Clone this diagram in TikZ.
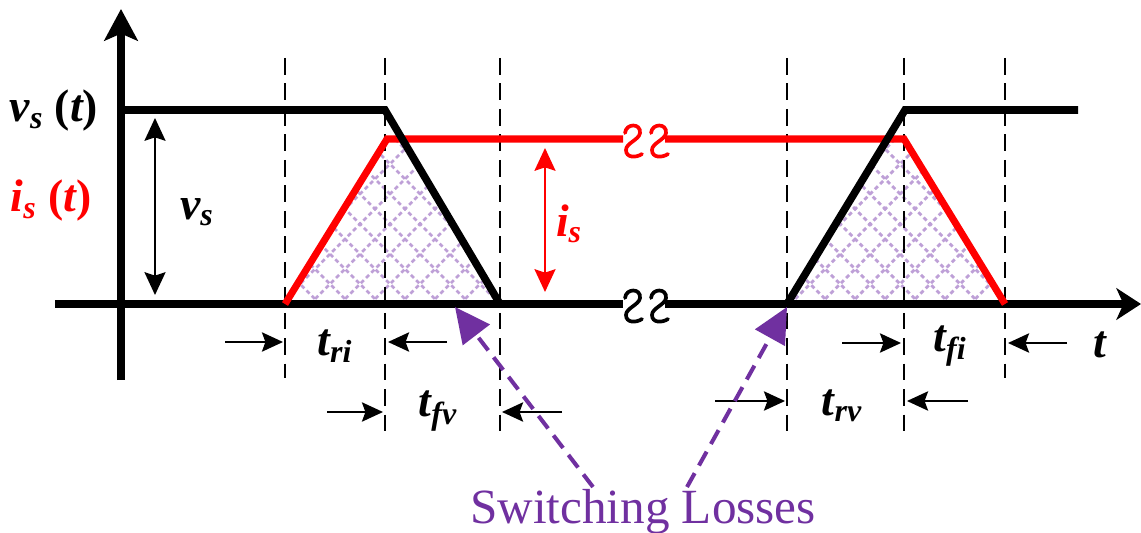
\documentclass[tikz,border=0pt]{standalone}
\usepackage{fontspec}
\setmainfont{Liberation Serif}
\usepackage{tikz}
\usetikzlibrary{arrows.meta}

\definecolor{morado}{RGB}{112,48,160}
\definecolor{lila}{RGB}{190,160,215}
\definecolor{rojo}{RGB}{255,0,0}

\tikzset{
  onda/.style={line width=4.3pt, line join=miter},
  guia/.style={line width=1.2pt, dash pattern=on 9.5pt off 5pt},
  cota/.style={line width=1.1pt, -{Stealth[length=12pt, width=11pt, inset=2pt]}},
  doble/.style={line width=1.1pt, {Stealth[length=13pt, width=12pt, inset=2pt]}-{Stealth[length=13pt, width=12pt, inset=2pt]}},
  etiq/.style={font=\fontsize{26pt}{30pt}\selectfont\bfseries\itshape, inner sep=0pt},
  perdida/.style={morado, line width=2.3pt, dash pattern=on 9pt off 5pt, -{Triangle[length=20pt, width=19pt]}},
  rayado/.style={lila, line width=1.6pt, dash pattern=on 2.4pt off 1.8pt},
  corte/.pic={\draw[line width=2.1pt, line cap=round]
    (-8,-6) .. controls (-7,-16) and (8,-16) .. (7,-6)
    .. controls (6,1) and (-7,4) .. (-7,11)
    .. controls (-7,19) and (3,19) .. (9,15);},
}

\begin{document}
\begin{tikzpicture}[x=0.02cm, y=-0.02cm, >={Stealth}]
    \useasboundingbox (0,0) rectangle (1141,533);

    % Puntos de las formas de onda
    \coordinate (a1) at (285,304);  \coordinate (a2) at (387,139);
    \coordinate (a3) at (402,139);  \coordinate (a4) at (500,304);
    \coordinate (b1) at (787,304);  \coordinate (b2) at (887,139);
    \coordinate (b3) at (904,139);  \coordinate (b4) at (1005,304);

    % Zonas de perdidas (rayado)
    \begin{scope}
        \clip (a1) -- (a2) -- (a3) -- (a4) -- cycle;
        \foreach \k in {200,230,...,1300}{
            \draw[rayado] (\k,304) -- ++(-250,-250);
            \draw[rayado] (\k-250,304) -- ++(250,-250);
        }
    \end{scope}
    \begin{scope}
        \clip (b1) -- (b2) -- (b3) -- (b4) -- cycle;
        \foreach \k in {200,230,...,1300}{
            \draw[rayado] (\k,304) -- ++(-250,-250);
            \draw[rayado] (\k-250,304) -- ++(250,-250);
        }
    \end{scope}

    % Lineas guia
    \foreach \xg/\yb in {285/378, 385/440, 500/440, 787/440, 904/440, 1005/378}{
        \draw[guia] (\xg,58) -- (\xg,\yb);
    }

    % Ejes
    \draw[line width=4pt, -{Stealth[length=18pt, width=19pt, inset=4pt]}] (121,380) -- (121,9);
    \draw[line width=4.3pt] (55,304) -- (623,304);
    \draw[line width=4.3pt, -{Stealth[length=14pt, width=18pt, inset=4pt]}] (665,304) -- (1141,304);
    \pic at (633,304) {corte};
    \pic at (659,304) {corte};

    % Corriente i_s
    \draw[onda, rojo, line width=4pt] (a1) -- (a2) -- (623,139);
    \draw[onda, rojo, line width=4pt] (665,139) -- (b3) -- (b4);
    \pic[rojo] at (633,139) {corte};
    \pic[rojo] at (659,139) {corte};

    % Tension v_s
    \draw[onda] (121,110) -- (385,110) -- (a4);
    \draw[onda] (b1) -- (905,110) -- (1078,110);

    % Etiquetas de los ejes
    \node[etiq] (lv) at (54,111) {v\textsubscript{s} {\upshape(}t{\upshape)}};
    \node[etiq, rojo] (li) at (51,201) {i\textsubscript{s} {\upshape(}t{\upshape)}};
    \node[etiq] (lt) at (1100,345) {t};

    % Amplitudes
    \draw[doble] (155,118) -- (155,295);
    \node[etiq] (vs) at (197,212) {v\textsubscript{s}};
    \draw[doble, rojo] (545,148) -- (545,292);
    \node[etiq, rojo] (is) at (569,224) {i\textsubscript{s}};

    % Tiempos de conmutacion
    \draw[cota] (225,342) -- (283,342);
    \draw[cota] (447,342) -- (388,342);
    \node[etiq] (tri) at (335,346) {t\textsubscript{ri}};
    \draw[cota] (327,412) -- (383,412);
    \draw[cota] (562,412) -- (502,412);
    \node[etiq] (tfv) at (438,411) {t\textsubscript{fv}};
    \draw[cota] (842,343) -- (901,343);
    \draw[cota] (1067,343) -- (1008,343);
    \node[etiq] (tfi) at (950,346) {t\textsubscript{fi}};
    \draw[cota] (715,401) -- (785,401);
    \draw[cota] (968,401) -- (907,401);
    \node[etiq] (trv) at (842,406) {t\textsubscript{rv}};

    % Perdidas de conmutacion
    \node[morado, font=\fontsize{28pt}{32pt}\selectfont, anchor=base] (sl) at (643,523) {Switching Losses};
    \coordinate (p1) at (593,487);
    \coordinate (p2) at (687,487);
    \draw[perdida] (p1) -- (455,307);
    \draw[perdida] (p2) -- (787,307);

\end{tikzpicture}
\end{document}
